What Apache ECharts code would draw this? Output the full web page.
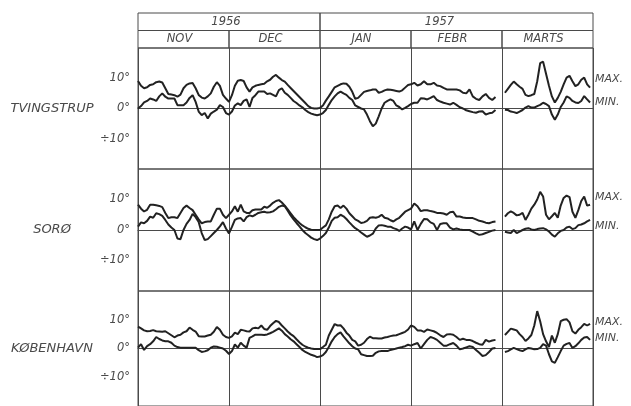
<!DOCTYPE html>
<html>
<head>
<meta charset="utf-8">
<script src="https://cdn.jsdelivr.net/npm/echarts@6/dist/echarts.min.js"></script>
<style>
html,body{margin:0;padding:0;background:#fff;}
#chart{width:631px;height:406px;}
</style>
</head>
<body>
<div id="chart"></div>
<script>
// ---- data ----
const months = ['NOV', 'DEC', 'JAN', 'FEBR', 'MARTS'];
const monthDays = [30, 31, 31, 28, 31];
const years = ['1956', '1957'];
const yearMonthCount = [2, 3];
const stations = ['TVINGSTRUP', 'SORØ', 'KØBENHAVN'];
const tickValues = [10, 0, -10];
const tickTexts = ['10°', '0°', '÷10°'];

// daily values, 1 Nov 1956 – 31 Mar 1957 (null = no observation)
const tvingstrupMax = [
  9.1,7.5,6.7,7.0,7.8,8.0,8.7,8.9,8.6,6.7, 4.8,4.6,4.4,3.9,4.6,6.7,7.8,8.3,8.4,6.7, 4.5,3.6,3.3,4.0,5.0,7.2,8.7,7.5,4.5,3.3,
  2.2,4.4,7.5,9.2,9.4,9.1,7.0,5.6,7.0,7.5, 7.8,8.0,8.2,9.0,9.5,10.5,11.1,10.2,9.4,8.9, 7.8,6.8,5.8,4.8,3.8,2.8,1.8,0.8,0.2,0.0, 0.0,
  0.2,1.0,2.6,4.0,5.5,7.0,7.5,8.0,8.3,8.2, 7.2,5.5,3.2,3.5,4.5,5.5,5.8,6.0,6.3,6.3, 5.2,5.5,6.0,6.3,6.2,6.0,5.8,5.6,6.0,6.9, 7.8,
  8.0,8.5,7.6,8.0,9.0,8.0,8.0,8.5,7.6,7.4, 6.8,6.3,6.3,6.3,6.3,6.0,5.2,5.0,6.3,4.0, 3.2,2.8,4.0,4.8,3.5,2.8,3.8,null,
  null,5.2,6.5,7.8,8.9,8.0,7.2,6.5,4.5,4.1, 4.4,4.8,9.0,15.0,15.5,11.5,7.5,4.0,2.0,3.5, 5.5,8.0,10.2,10.8,9.0,7.4,8.0,9.5,10.2,8.0, 6.9
];
const tvingstrupMin = [
  0.0,0.8,2.0,2.5,3.3,3.0,2.5,4.0,5.0,3.9, 3.3,3.3,3.3,1.1,1.1,1.1,2.0,3.5,4.4,2.2, -1.0,-2.2,-1.5,-3.3,-1.7,-1.0,-0.4,1.1,0.5,-1.5,
  -2.0,-1.0,1.0,1.7,1.1,2.5,3.0,0.5,3.5,4.4, 5.6,5.6,5.6,4.8,5.0,4.5,4.0,6.1,6.7,5.2, 4.5,3.5,2.5,1.8,1.0,0.4,-0.5,-1.2,-1.7,-2.0, -2.2,
  -2.0,-1.5,-0.5,1.2,2.8,4.0,5.0,5.6,5.0,4.5, 3.5,2.8,1.0,0.5,0.0,-0.3,-2.0,-4.2,-5.9,-5.0, -2.6,0.0,1.9,2.5,3.0,2.5,1.0,0.5,-0.3,0.2, 0.8,
  1.5,1.9,1.9,3.4,3.3,3.0,3.5,4.1,2.8,2.3, 1.9,1.6,1.3,1.9,1.2,0.4,0.0,-0.6,-0.9,-1.2, -1.4,-1.0,-0.9,-2.0,-1.6,-1.4,-0.5,null,
  null,-0.4,-0.5,-1.0,-1.2,-1.5,-1.0,-0.5,0.3,0.8, 0.3,0.3,0.8,1.2,1.9,1.5,0.8,-2.0,-3.7,-2.0, 0.5,2.0,4.0,3.5,2.5,2.0,1.8,2.5,4.1,3.0, 2.0
];
const soroMax = [
  8.3,7.0,6.1,6.6,8.3,8.3,8.1,7.9,7.5,5.6, 3.9,4.2,4.2,3.9,5.6,7.2,8.0,7.2,6.5,5.0, 3.5,2.2,2.6,2.8,2.8,5.0,7.0,7.0,5.0,3.9,
  5.0,6.1,7.8,6.0,8.3,6.1,5.6,5.6,6.5,6.7, 6.7,6.7,7.6,7.3,8.0,8.9,9.5,9.8,9.0,8.0, 6.8,5.5,4.2,3.2,2.3,1.5,0.9,0.4,0.1,0.0, 0.0,
  0.0,0.8,1.5,3.5,6.0,7.8,8.0,7.2,8.0,7.0, 5.5,4.5,3.5,3.0,2.3,2.5,3.0,4.0,4.2,4.0, 4.3,5.0,4.0,3.8,3.2,2.8,3.5,4.0,5.0,6.0, 6.5,
  7.0,8.7,7.8,6.2,6.5,6.5,6.2,6.0,5.6,5.6, 5.4,5.0,5.8,6.0,4.4,4.4,4.1,3.9,3.9,3.9, 3.5,3.0,2.8,2.4,2.2,2.6,2.8,null,
  null,4.4,5.5,6.1,5.6,4.8,5.0,5.6,3.3,5.0, 7.0,8.3,10.0,12.5,11.0,5.0,3.5,4.5,5.6,4.0, 8.0,10.5,11.3,10.8,6.0,4.0,6.5,9.5,11.0,8.0, 8.3
];
const soroMin = [
  1.1,2.5,2.2,3.0,4.4,4.0,5.5,5.2,4.6,3.3, 1.8,0.8,0.0,-2.8,-3.0,0.0,2.0,3.3,5.3,4.2, 2.6,-1.0,-3.3,-3.0,-2.0,-1.0,0.0,1.2,2.6,0.5,
  -1.1,1.0,3.3,3.8,3.9,2.8,4.2,4.8,4.5,5.0, 5.6,5.8,6.0,5.7,5.8,6.1,6.8,7.6,8.0,7.8, 6.3,4.8,3.5,2.3,1.2,0.0,-1.0,-1.7,-2.5,-3.0, -3.3,
  -2.8,-2.0,-1.0,0.8,3.0,4.0,4.2,5.0,4.5,3.6, 2.5,1.5,0.6,0.0,-0.8,-1.5,-2.2,-1.8,-1.2,0.5, 1.5,1.6,1.4,1.1,1.1,0.6,0.3,-0.3,0.5,1.1, 0.8,
  0.2,2.8,0.0,2.0,3.6,3.5,2.5,2.0,0.0,2.0, 2.2,2.2,0.8,0.2,0.5,0.2,0.0,0.0,0.0,-0.5, -1.1,-1.6,-1.4,-1.0,-0.6,-0.2,0.0,null,
  null,-0.6,-0.8,-1.0,0.0,-1.0,-0.5,0.0,0.4,0.6, 0.2,0.0,0.3,0.5,0.6,0.2,-0.5,-1.5,-2.2,-1.1, -0.3,0.0,0.8,1.1,0.3,0.6,1.6,1.8,2.2,2.8, 3.3
];
const kobenhavnMax = [
  7.6,7.0,6.3,6.0,6.1,6.4,6.0,5.9,5.8,6.0, 5.3,4.6,3.9,4.5,4.8,5.6,6.0,7.3,6.5,5.9, 4.3,4.2,4.2,4.5,4.8,5.8,7.5,6.5,4.8,4.0,
  3.7,4.2,5.5,5.0,6.5,6.3,6.0,5.9,7.0,7.2, 7.0,8.0,6.8,6.5,7.8,8.8,9.6,9.2,8.0,7.0, 5.9,5.0,4.3,3.2,2.2,1.3,0.7,0.3,0.0,-0.2, -0.2,
  -0.2,0.5,1.3,4.5,6.5,8.5,8.0,8.1,7.0,5.5, 4.5,3.0,2.5,1.0,1.3,2.0,3.3,4.1,3.6,3.6, 3.5,3.5,3.8,4.0,4.3,4.5,4.6,5.0,5.4,5.8, 6.6,
  8.0,7.5,6.3,6.3,5.8,6.6,6.3,6.0,5.4,4.6, 4.0,4.9,5.0,4.8,4.0,3.0,3.4,3.0,3.0,2.6, 2.0,1.5,1.3,3.0,2.4,2.8,3.0,null,
  null,4.7,5.8,6.9,6.6,6.3,5.0,4.0,2.6,3.5, 4.7,8.0,13.0,9.5,5.0,2.5,0.5,4.5,2.0,5.0, 9.5,10.0,10.2,9.1,6.0,5.2,6.5,7.4,8.6,8.0, 8.6
];
const kobenhavnMin = [
  0.3,1.5,-0.5,0.8,1.5,2.5,4.0,3.3,2.8,2.5, 2.5,2.0,1.0,0.5,0.3,0.3,0.3,0.3,0.3,0.3, -0.6,-1.2,-1.0,-0.6,0.3,0.7,0.6,0.3,0.0,-0.8,
  -1.9,-0.9,1.4,0.3,2.0,1.0,0.3,3.7,4.2,4.8, 4.8,4.8,4.7,4.9,5.3,5.8,6.4,7.0,6.2,5.0, 4.2,3.2,2.5,1.5,0.5,-0.5,-1.2,-1.7,-2.2,-2.5, -3.0,
  -2.8,-2.3,-1.2,0.5,2.5,4.0,5.0,5.6,4.2,3.0, 1.8,0.8,0.0,-0.3,-2.0,-2.3,-2.6,-2.6,-2.5,-1.5, -1.0,-0.9,-0.9,-0.9,-0.5,-0.3,0.0,0.3,0.5,0.8, 1.3,
  1.0,1.5,1.9,0.0,1.5,3.0,4.0,3.6,3.0,2.0, 1.0,1.0,1.5,1.9,1.0,-0.3,0.0,0.4,0.8,0.5, -0.5,-1.5,-2.6,-2.3,-1.2,0.0,0.2,null,
  null,-1.2,-0.9,-0.3,0.2,-0.2,-0.6,-0.9,-0.3,0.2, 0.0,-0.3,-0.2,0.2,1.5,1.0,-2.0,-4.5,-5.0,-3.0, -0.9,1.0,1.6,1.9,0.2,0.8,1.8,3.0,3.8,4.0, 3.0
];
const seriesMax = [tvingstrupMax, soroMax, kobenhavnMax];
const seriesMin = [tvingstrupMin, soroMin, kobenhavnMin];

// ---- helpers ----
const monthStarts = [];
{ let acc = 0; monthDays.forEach(n => { monthStarts.push(acc); acc += n; }); }
function xOf(d) {
  let m = 0;
  while (m < monthDays.length - 1 && d >= monthStarts[m + 1]) m++;
  return m + (d - monthStarts[m]) / monthDays[m];
}
function toPoints(arr) {
  return arr.map((v, d) => [xOf(d), v === null ? '-' : v]);
}

// ---- layout / style ----
const FONT = 'DejaVu Sans';
const INK = '#222';
const TXT = '#4a4a4a';
const GRIDC = '#4a4a4a';
const plotLeft = 138, plotWidth = 455;
const panelTops = [48, 169, 291];
const panelHeights = [121, 122, 121];
const maxLabelOffset = [[0, -8], [0, -8], [0, -2]];
const minLabelOffset = [[0, 0], [0, 6], [0, -2]];
const yearLabelOffset = [[-3, 0], [-17, 0]];

const grid = [{ left: plotLeft, width: plotWidth, top: 13, height: 35 }];
const xAxis = [{ gridIndex: 0, type: 'value', min: 0, max: months.length, show: false }];
const yAxis = [{ gridIndex: 0, type: 'value', min: 0, max: 2, show: false }];
const series = [];

// header boxes (years and months)
const headerAreas = [];
{
  let start = 0;
  years.forEach((y, i) => {
    headerAreas.push([{ xAxis: start, yAxis: 1, name: y, label: { offset: yearLabelOffset[i] } },
                      { xAxis: start + yearMonthCount[i], yAxis: 2 }]);
    start += yearMonthCount[i];
  });
  months.forEach((m, i) => {
    headerAreas.push([{ xAxis: i, yAxis: 0, name: m, label: { offset: [-4, 0] } }, { xAxis: i + 1, yAxis: 1 }]);
  });
}
series.push({
  type: 'line', xAxisIndex: 0, yAxisIndex: 0, data: [[0, 0]], symbol: 'none',
  lineStyle: { width: 0 }, silent: true,
  markArea: {
    silent: true,
    itemStyle: { color: 'rgba(0,0,0,0)', borderColor: GRIDC, borderWidth: 1 },
    label: { show: true, position: 'inside', formatter: '{b}', color: TXT,
      fontFamily: FONT, fontStyle: 'italic', fontSize: 11.5 },
    data: headerAreas
  }
});

stations.forEach((name, i) => {
  const gi = i + 1;
  grid.push({ left: plotLeft, width: plotWidth, top: panelTops[i], height: panelHeights[i],
    show: true, borderColor: GRIDC, borderWidth: 1, backgroundColor: 'transparent' });
  xAxis.push({
    gridIndex: gi, type: 'value', min: 0, max: months.length, interval: 1,
    axisLine: { show: true, onZero: true, lineStyle: { color: GRIDC, width: 1.2 } },
    axisTick: { show: false }, axisLabel: { show: false },
    splitLine: { show: true, lineStyle: { color: GRIDC, width: 1 } }
  });
  yAxis.push({
    gridIndex: gi, type: 'value', min: -20, max: 20, interval: 10,
    axisLine: { show: false }, axisTick: { show: false }, splitLine: { show: false },
    axisLabel: {
      margin: 8, color: TXT, fontFamily: FONT, fontStyle: 'italic', fontSize: 11.5,
      formatter: v => { const k = tickValues.indexOf(v); return k >= 0 ? tickTexts[k] : ''; }
    },
    name: name, nameLocation: 'middle', nameGap: 86, nameRotate: 0,
    nameTextStyle: { align: 'center', verticalAlign: 'middle', color: TXT,
      fontFamily: FONT, fontStyle: 'italic', fontSize: 13 }
  });
  const common = {
    type: 'line', xAxisIndex: gi, yAxisIndex: gi, symbol: 'none', connectNulls: false,
    lineStyle: { color: INK, width: 2 }, silent: true
  };
  series.push(Object.assign({}, common, {
    name: name + ' MAX', data: toPoints(seriesMax[i]),
    endLabel: { show: true, formatter: 'MAX.', distance: 5, offset: maxLabelOffset[i],
      color: TXT, fontFamily: FONT, fontStyle: 'italic', fontSize: 11 }
  }));
  series.push(Object.assign({}, common, {
    name: name + ' MIN', data: toPoints(seriesMin[i]),
    endLabel: { show: true, formatter: 'MIN.', distance: 5, offset: minLabelOffset[i],
      color: TXT, fontFamily: FONT, fontStyle: 'italic', fontSize: 11 }
  }));
});

const chart = echarts.init(document.getElementById('chart'), null, { renderer: 'canvas' });
chart.setOption({
  animation: false,
  backgroundColor: '#fff',
  textStyle: { fontFamily: FONT },
  grid, xAxis, yAxis, series
});
</script>
</body>
</html>
